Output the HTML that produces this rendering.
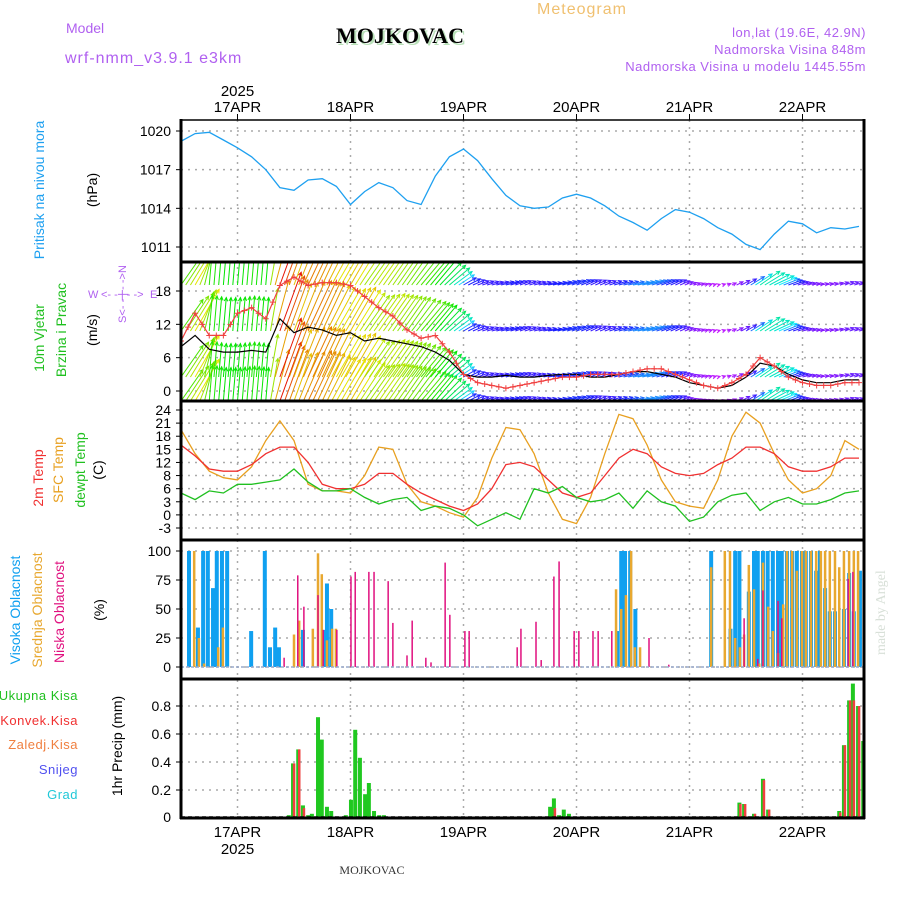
<!DOCTYPE html>
<html><head><meta charset="utf-8"><style>
html,body{margin:0;padding:0;background:#fff}
svg{display:block}
text{font-family:"Liberation Sans",sans-serif}
</style></head><body>
<svg id="chart" width="900" height="900" viewBox="0 0 900 900" xmlns="http://www.w3.org/2000/svg">
<rect width="900" height="900" fill="#fff"/>
<text x="582" y="14" text-anchor="middle" font-size="16" fill="#f0c070" letter-spacing="1">Meteogram</text>
<text x="66" y="33" font-size="14" fill="#b060f0">Model</text>
<text x="65" y="63" font-size="16" fill="#b060f0" letter-spacing="1">wrf-nmm_v3.9.1 e3km</text>
<text x="400" y="43" text-anchor="middle" font-size="22" font-weight="bold" fill="#000" style="font-family:'Liberation Serif',serif;text-shadow:2px 2px 0 #b8e0b8">MOJKOVAC</text>
<text x="866" y="37" text-anchor="end" font-size="13" fill="#b060f0" letter-spacing="0.5">lon,lat (19.6E, 42.9N)</text>
<text x="866" y="54" text-anchor="end" font-size="13" fill="#b060f0" letter-spacing="0.5">Nadmorska Visina 848m</text>
<text x="866" y="71" text-anchor="end" font-size="13" fill="#b060f0" letter-spacing="0.5">Nadmorska Visina u modelu 1445.55m</text>
<text x="372" y="874" text-anchor="middle" font-size="12" style="font-family:'Liberation Serif',serif" fill="#333">MOJKOVAC</text>
<text transform="translate(885,655) rotate(-90)" font-size="14" style="font-family:'Liberation Serif',serif" fill="#d8e0d8">made by Angel</text>
<g id="g"></g>
</svg>
<script>
// ---- data (3-hourly grid, hours from 16APR 12UTC) ----
const dayLabels = ["17APR","18APR","19APR","20APR","21APR","22APR"];
const pressure = [1019.2,1019.8,1019.9,1019.3,1018.7,1018.0,1017.0,1015.6,1015.4,1016.2,1016.3,1015.7,1014.3,1015.3,1016.0,1015.6,1014.6,1014.3,1016.5,1018.0,1018.6,1017.7,1016.3,1015.0,1014.2,1014.0,1014.1,1014.8,1015.1,1014.8,1014.2,1013.4,1012.9,1012.3,1013.2,1013.9,1013.7,1013.2,1012.5,1012.0,1011.2,1010.8,1012.0,1013.0,1012.8,1012.1,1012.5,1012.4,1012.6];
const windSpd = [8,10,7.5,7,7,7.3,7,13,10.5,11.5,11,10,10.5,9,9.5,9,8.5,8,7,5.5,3,2.5,2.5,2.8,2.5,2.5,2.8,3,3,2.5,2.5,3,3.5,3.5,3,2.5,1.5,1,0.5,1,2.5,5,4.5,3,2,1.5,1.5,2,2];
const windGust = [9,14,10,10,14,15,13,19,20.5,19,19.5,19.5,19,17,15,13.5,11,9.5,10,7,3,1.5,1,0.5,1,1.5,2,2.5,2.5,3,3,3,3.5,4,4,3,2,1,0.5,1.5,3,6,4.5,2.5,1.5,1,1,1.5,1.5];
const windDir = [35,30,5,5,5,5,5,20,20,25,25,30,30,35,35,35,35,40,40,50,60,70,75,75,70,75,80,75,70,65,70,75,80,75,70,65,70,75,75,65,60,55,65,70,75,80,75,70,75];
const tSfc = [19.5,14,10,8.5,8,11,17,21.5,17,7,5.5,5.5,5,9,15.5,15,7,3,2,0.5,-0.5,4,13,20,19.5,14,5,-1,-2,4,14,23,22,16,8,3,2,1.5,8,18,23.5,21,14,8,5,6,9,17,15];
const t2m = [16,13.5,10.5,10,10,11.5,14,15.5,15.5,12,7,6,6,7,9.5,9.5,7,5,3.5,2,1,2.5,6,11.5,12,11,8,5,4,5,9,13,15,14,11,9.5,9,9.5,11.5,13,15.5,15.5,14,11,10,10,11,13,13];
const tDew = [5,3.5,5.5,5,7,7,7.5,8,10.5,7.5,5.5,5.5,6,4,2.5,3.5,4,1,2,1.5,0,-2.5,-1,0.5,-1,6,5,6.5,4,3,3.5,5,1.5,5.5,3,2,-1.5,-0.5,3,4.5,5,1,3,4,2.5,2.5,3.5,5,5.5];
const highHours = [1.7,3.6,4.7,5.7,6.8,7.6,8.7,9.8,14.9,17.8,18.9,20.0,20.8,25.9,30.2,31.0,31.9,92.6,93.5,94.3,95.4,96.5,112.6,116.7,117.7,118.6,120.6,121.7,122.5,123.6,124.6,125.7,126.8,127.6,128.7,129.8,130.8,131.9,132.7,133.8,134.9,135.7,136.8,137.8,138.9,140.8,141.9,142.9,144.2];
const highCloud = [100,34,100,100,68,100,100,100,31,100,17,34,17,32,32,72,50,31,100,100,100,50,100,33,100,100,65,100,100,100,100,100,100,100,100,100,100,100,100,100,83,100,68,48,48,50,81,48,83];
const midHours = [2.8,3.8,4.9,7.9,8.9,24.0,25.1,28.0,29.1,29.9,31.0,32.1,32.9,92.4,93.5,94.5,95.6,96.4,97.5,112.6,115.5,116.6,117.7,118.7,119.6,120.6,121.7,122.8,123.6,124.7,125.7,126.8,127.9,128.7,129.8,130.8,131.9,132.7,133.8,134.9,135.9,136.8,137.8,138.9,139.8,140.8,141.9,142.9,143.8];
const midCloud = [100,25,3,17,34,28,40,33,98,80,23,33,33,67,50,62,100,17,17,86,100,100,25,17,28,88,67,3,90,52,31,12,54,100,100,83,100,100,100,100,100,100,100,100,86,100,100,100,100];
const lowHours = [21.9,24.8,26.1,29.1,30.2,33.1,36.1,37.0,39.9,41.0,44.0,45.0,48.0,49.1,52.0,53.1,56.1,57.1,60.3,61.2,71.4,72.2,75.4,76.5,79.2,80.3,83.5,84.5,87.5,88.6,91.5,99.4,103.6,119.6,122.5,123.6,126.8,127.6,141.7,142.7];
const lowCloud = [8,79,52,62,32,32,78,82,82,82,74,38,10,40,8,4,90,45,31,31,17,33,39,6,78,91,31,31,31,31,31,25,2,42,7,66,57,42,76,82];
const precipHours = [22.9,23.8,24.9,25.9,27.0,27.8,29.1,29.9,31.0,31.9,32.9,34.0,35.0,36.1,37.0,38.0,39.1,39.9,41.0,42.1,43.1,44.0,78.4,79.2,80.3,81.3,82.4,83.3,117.7,118.6,119.6,121.7,122.5,123.6,124.7,137.6,139.8,140.8,141.9,142.7,143.8,144.9];
const precipTotal = [0.02,0.39,0.49,0.09,0.02,0.03,0.72,0.56,0.08,0.05,0.01,0.01,0.02,0.13,0.63,0.43,0.17,0.25,0.05,0.02,0.02,0.01,0.08,0.14,0.02,0.06,0.03,0.01,0.01,0.11,0.10,0.03,0.01,0.28,0.06,0.01,0.05,0.52,0.84,0.96,0.80,0.55];
const precipConv = [0.01,0.39,0.49,0.07,0,0,0,0,0,0,0,0,0,0,0,0,0,0,0,0,0,0,0,0.07,0,0,0,0,0.01,0.10,0.10,0.03,0.01,0.27,0.06,0,0.04,0.52,0.84,0.84,0.80,0.55];
const pTicks = [1020,1017,1014,1011];
const wTicks = [0,6,12,18];
const tTicks = [24,21,18,15,12,9,6,3,0,-3];
const tTickLabels = ["24","21","18","15","12","8","6","3","0","-3"];
const cTicks = [0,25,50,75,100];
const rTicks = [0.2,0.4,0.6,0.8];

// ---- geometry ----
const X0=181, X1=864, PXH=113/24;
const x = h => X0 + h*PXH;
const lin=(v0,y0,v1,y1)=>v=>y0+(v-v0)*(y1-y0)/(v1-v0);
const yP=lin(1020,131,1011,247), yW=lin(18,291,0,391), yT=lin(24,410,-3,528), yC=lin(100,551,0,667), yR=lin(0.8,706,0,818);
const panels=[[120,262],[262,401],[401,540],[540,679],[679,818]];
const NS="http://www.w3.org/2000/svg", G=document.getElementById('g');
function el(tag,attrs,parent,txt){const e=document.createElementNS(NS,tag);for(const k in attrs)e.setAttribute(k,attrs[k]);if(txt!==undefined)e.textContent=txt;(parent||G).appendChild(e);return e;}
const defs=el('defs',{});
panels.forEach((p,i)=>{const c=el('clipPath',{id:'clip'+i},defs);el('rect',{x:X0,y:p[0],width:X1-X0,height:p[1]-p[0]},c);});

// grid
const grid=el('g',{});


dayLabels.forEach((d,i)=>{const xx=x(12+24*i);el('line',{x1:xx,x2:xx,y1:120,y2:818,stroke:'#aaa','stroke-dasharray':'2,5','stroke-width':1.5},grid);});
function hgrid(ticks,f,labels,name){ticks.forEach((t,i)=>{const yy=f(t);el('line',{x1:X0,x2:X1,y1:yy,y2:yy,stroke:'#aaa','stroke-dasharray':'2,5','stroke-width':1.5},grid);
 const tl=el('text',{x:171,y:yy+5,'text-anchor':'end','font-size':14,fill:'#000'},G,labels?labels[i]:String(t));
 
 
 el('line',{x1:X0-5,x2:X0,y1:yy,y2:yy,stroke:'#000'});});}
hgrid(pTicks,yP,null,'pressure');hgrid(wTicks,yW,null,'wind');hgrid(tTicks,yT,tTickLabels,'temp');hgrid(cTicks,yC,null,'cloud');hgrid(rTicks,yR,rTicks.map(v=>v.toFixed(1)),'precip');
el('text',{x:171,y:822,'text-anchor':'end','font-size':14},G,'0');

function path(vals,f,color,w,clip,name){let d='';vals.forEach((v,i)=>{d+=(i?'L':'M')+x(i*3).toFixed(1)+','+f(v).toFixed(1);});
 const p=el('path',{d,fill:'none',stroke:color,'stroke-width':w,'clip-path':'url(#clip'+clip+')'});
 
 return p;}

// pressure
path(pressure,yP,'#1ea0f0',1.3,0,'pressure-line');

// wind arrows
const hueStops=[[0.5,285],[2,260],[3,235],[4,185],[7,120],[10,60],[13,5],[15,-30]];
function hue(s){if(s<=hueStops[0][0])return hueStops[0][1];for(let i=1;i<hueStops.length;i++){if(s<=hueStops[i][0]){const a=hueStops[i-1],b=hueStops[i];return a[1]+(s-a[0])*(b[1]-a[1])/(b[0]-a[0]);}}return -30;}
const interp=(arr,h)=>{const i=Math.min(Math.floor(h/3),arr.length-2),f=h/3-i;return arr[i]*(1-f)+arr[i+1]*f;};
const wg=el('g',{'clip-path':'url(#clip1)'});


const bases=[285,331,377,401];
for(let h=0;h<=144;h+=1){
 const s=interp(windSpd,h),dir=interp(windDir,h)*Math.PI/180,L=s*4.8;
 const col='hsl('+((hue(s)+360)%360)+',100%,'+(s<4?'55%':'45%')+')';
 const x0=x(h);
 bases.forEach(b=>{const x1=x0+Math.sin(dir)*L,y1=b-Math.cos(dir)*L;
  el('line',{x1:x0,y1:b,x2:x1,y2:y1,stroke:col,'stroke-width':1},wg);
  const a=Math.atan2(y1-b,x1-x0),hl=4;
  el('path',{d:`M${x1-hl*Math.cos(a-0.45)},${y1-hl*Math.sin(a-0.45)}L${x1},${y1}L${x1-hl*Math.cos(a+0.45)},${y1-hl*Math.sin(a+0.45)}`,fill:'none',stroke:col,'stroke-width':1},wg);});
}
path(windSpd,yW,'#000',1.2,1,'wind-speed-line');
path(windGust,yW,'#f04040',1.2,1,'wind-gust-line');
const gm=el('g',{'clip-path':'url(#clip1)'});


for(let h=0;h<=144;h+=1.5){const xx=x(h),yy=yW(interp(windGust,h));el('path',{d:`M${xx-3},${yy}H${xx+3}M${xx},${yy-3}V${yy+3}`,stroke:'#f04040','stroke-width':1},gm);}

// temperatures
path(tSfc,yT,'#e8a020',1.3,2,'sfc-temp-line');
path(t2m,yT,'#f03030',1.3,2,'2m-temp-line');
path(tDew,yT,'#20c020',1.3,2,'dewpoint-line');

// clouds
function bars(hours,vals,f,base,w,off,color,clip,name){const g=el('g',{'clip-path':'url(#clip'+clip+')'});
 
 
 hours.forEach((h,i)=>{const v=vals[i];if(v<=0)return;const yy=f(v);el('rect',{x:x(h)-w/2+off,y:yy,width:w,height:base-yy,fill:color},g);});}
bars(highHours,highCloud,yC,667,4,0,'#10a0f0',3,'high-cloud-bars');
bars(midHours,midCloud,yC,667,2.5,0,'#e8a830',3,'mid-cloud-bars');
bars(lowHours,lowCloud,yC,667,1.5,0,'#e0107f',3,'low-cloud-bars');
el('line',{x1:X0,x2:X1,y1:667,y2:667,stroke:'#9ac','stroke-width':1.5,'stroke-dasharray':'3,2'});

// precip
bars(precipHours,precipTotal,yR,818,4,0,'#20c820',4,'total-precip-bars');
bars(precipHours,precipConv,yR,818,2.5,1,'#f04040',4,'convective-precip-bars');
el('line',{x1:X0,x2:X1,y1:817,y2:817,stroke:'#000','stroke-width':1.5,'stroke-dasharray':'4,3'});

// frames
[120,262,401,540,679,818].forEach((yy,i)=>el('line',{x1:X0-1,x2:X1+1,y1:yy,y2:yy,stroke:'#000','stroke-width':(i==0?1.5:3)}));
el('line',{x1:X0,x2:X0,y1:119,y2:819,stroke:'#000','stroke-width':3});
el('line',{x1:X1,x2:X1,y1:119,y2:819,stroke:'#000','stroke-width':3});

// x labels
dayLabels.forEach((d,i)=>{const xx=x(12+24*i);
 const t=el('text',{x:xx,y:112,'text-anchor':'middle','font-size':15},G,d);
 
 
 const b=el('text',{x:xx,y:837,'text-anchor':'middle','font-size':15},G,d);
 
 
 el('line',{x1:xx,x2:xx,y1:114,y2:120,stroke:'#000'});});
el('text',{x:x(12),y:96,'text-anchor':'middle','font-size':15},G,'2025');
el('text',{x:x(12),y:854,'text-anchor':'middle','font-size':15},G,'2025');

// left labels
function vlab(txt,cx,cy,color,size,name){const t=el('text',{transform:`translate(${cx},${cy}) rotate(-90)`,'text-anchor':'middle','font-size':size||14,fill:color},G,txt);
 
 }
vlab('Pritisak na nivou mora',44,190,'#1ea0f0',14,'pressure-axis-title');
vlab('(hPa)',97,190,'#000',14,'pressure-unit');
vlab('10m Vjetar',44,338,'#20c020',14,'wind-axis-title');
vlab('Brzina i Pravac',66,330,'#20c020',14,'wind-axis-subtitle');
vlab('(m/s)',97,330,'#000',14,'wind-unit');
vlab('2m Temp',43,478,'#f03030',14,'temp-2m-title');
vlab('SFC Temp',63,470,'#e8a020',14,'temp-sfc-title');
vlab('dewpt Temp',85,470,'#20c020',14,'temp-dew-title');
vlab('(C)',103,470,'#000',14,'temp-unit');
vlab('Visoka Oblacnost',20,610,'#10a0f0',14,'high-cloud-title');
vlab('Srednja Oblacnost',42,610,'#e8a830',14,'mid-cloud-title');
vlab('Niska Oblacnost',64,612,'#e0107f',14,'low-cloud-title');
vlab('(%)',104,610,'#000',14,'cloud-unit');
vlab('1hr Precip (mm)',122,746,'#000',14,'precip-axis-title');
[['Ukupna Kisa','#20c020',700],['Konvek.Kisa','#f03030',725],['Zaledj.Kisa','#f08040',749],['Snijeg','#5050f0',774],['Grad','#20c8d8',799]].forEach(l=>{
 const t=el('text',{x:78,y:l[2],'text-anchor':'end','font-size':13,fill:l[1],'letter-spacing':0.5},G,l[0]);
 
 });
// compass
const cg=el('g',{fill:'#b060f0','font-size':11});


el('text',{x:88,y:298},cg,'W');
el('text',{x:101,y:298},cg,'<- - | - ->');
el('text',{x:150,y:298},cg,'E');
el('text',{transform:'translate(126,294) rotate(-90)','text-anchor':'middle'},cg,'S<- - | - ->N');
</script>
</body></html>
